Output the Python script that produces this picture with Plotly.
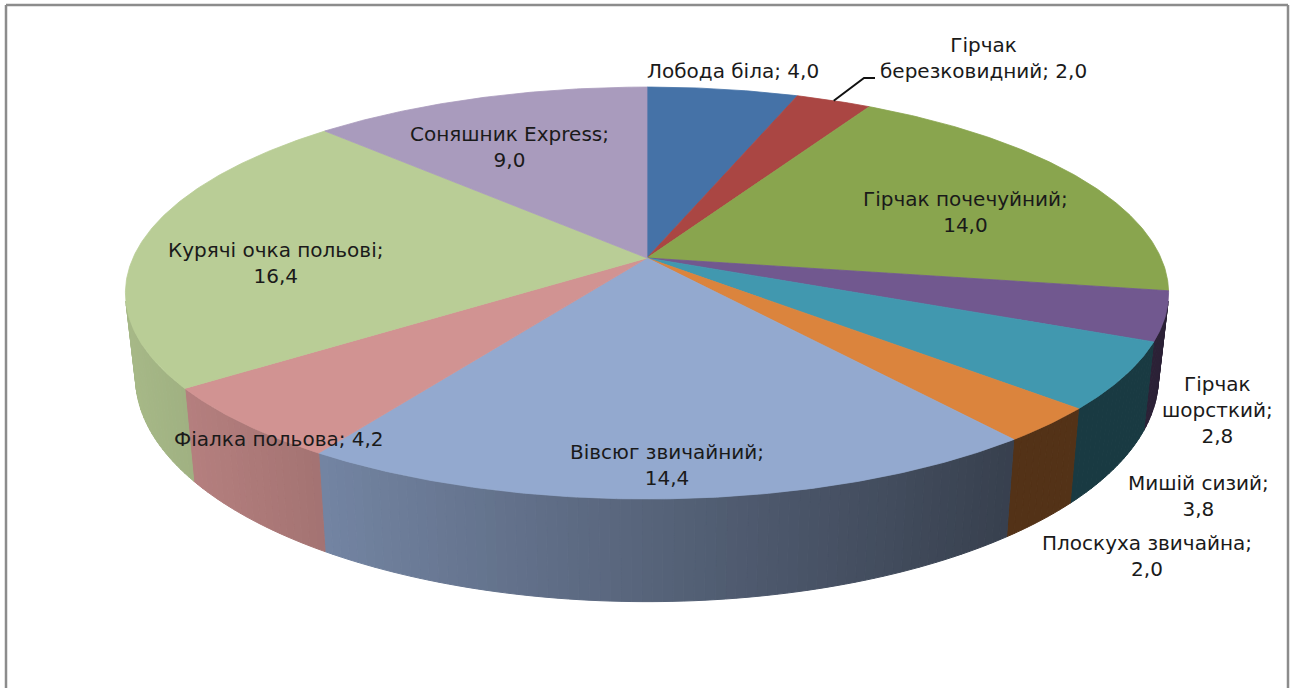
import numpy as np
import plotly.graph_objects as go

# Weed species and their shares
categories = ["Лобода біла", "Гірчак березковидний", "Гірчак почечуйний", "Гірчак шорсткий",
              "Мишій сизий", "Плоскуха звичайна", "Вівсюг звичайний", "Фіалка польова",
              "Курячі очка польові", "Соняшник Express"]
values = [4.0, 2.0, 14.0, 2.8, 3.8, 2.0, 14.4, 4.2, 16.4, 9.0]
top_colors = ["#4572A7", "#AA4643", "#89A54E", "#71588F", "#4198AF",
              "#DB843D", "#93A9CF", "#D19392", "#B9CD96", "#A99BBD"]

# Label placement: centre of the text block and how its lines are broken
label_x = [733, 983, 965, 1217, 1198, 1147, 667, 279, 275, 509]
label_y = [71, 58, 212, 410, 496, 556, 465, 439, 263, 147]
label_breaks = [
    "{a} {b}; {v}", "{a}<br>{b}; {v}", "{a} {b};<br>{v}", "{a}<br>{b};<br>{v}", "{a} {b};<br>{v}",
    "{a} {b};<br>{v}", "{a} {b};<br>{v}", "{a} {b}; {v}", "{a};<br>{v}", "{a} {b};<br>{v}",
]

# Perspective disc: pie centre, half-width, half-depth and foreshortening
CX, TOP_CY, TOP_A, TOP_B, K = 647.0, 258.0, 514.0, 200.0, 0.17
BOT_CY, BOT_A, BOT_B = 339.0, 504.0, 218.0


def rim(theta_deg, cy, a, b):
    t = np.radians(theta_deg)
    x, y = np.sin(t), np.cos(t)
    d = 1 + K * y
    return CX + a * x / d, cy - b * y / d


def hex_rgb(h):
    return np.array([int(h[i:i + 2], 16) for i in (1, 3, 5)], dtype=float)


def wall_shade(px):
    # Light falls from the left, the wall darkens toward the right
    return np.interp(px, [130, 327, 1005, 1300], [0.90, 0.78, 0.38, 0.38])


edges = 360 * np.concatenate([[0], np.cumsum(values)]) / np.sum(values)
fig = go.Figure()

# Outer wall, split into narrow facets so that the shading varies along it
for i, color in enumerate(top_colors):
    lo, hi = max(edges[i], 102), min(edges[i + 1], 258)
    if hi <= lo:
        continue
    steps = np.linspace(lo, hi, max(2, int(hi - lo) + 2))
    base = hex_rgb(color)
    for t0, t1 in zip(steps[:-1], steps[1:]):
        x0, y0 = rim(np.array([t0, t1]), TOP_CY, TOP_A, TOP_B)
        x1, y1 = rim(np.array([t1, t0]), BOT_CY, BOT_A, BOT_B)
        r, g, b = np.round(base * wall_shade((x0.mean() + x1.mean()) / 2)).astype(int)
        fill = f"rgb({r},{g},{b})"
        fig.add_trace(go.Scatter(
            x=np.r_[x0, x1, x0[0]], y=np.r_[y0, y1, y0[0]], mode="lines", fill="toself",
            fillcolor=fill, line=dict(color=fill, width=1), hoverinfo="skip", showlegend=False))

# Top face of each slice
for i, color in enumerate(top_colors):
    arc = np.linspace(edges[i], edges[i + 1], max(8, int(edges[i + 1] - edges[i]) * 2))
    xs, ys = rim(arc, TOP_CY, TOP_A, TOP_B)
    fig.add_trace(go.Scatter(
        x=np.r_[CX, xs, CX], y=np.r_[TOP_CY, ys, TOP_CY], mode="lines", fill="toself",
        fillcolor=color, line=dict(color=color, width=0.8), name=categories[i],
        hoverinfo="name", showlegend=False))

# Leader line of the small red slice
lead_x, lead_y = rim(np.array([(edges[1] + edges[2]) / 2]), TOP_CY, TOP_A, TOP_B)
fig.add_trace(go.Scatter(
    x=[lead_x[0], 864, 875], y=[lead_y[0], 78, 78], mode="lines",
    line=dict(color="#111111", width=2), hoverinfo="skip", showlegend=False))

# Data labels with a decimal comma
for name, val, fmt, lx, ly in zip(categories, values, label_breaks, label_x, label_y):
    head, _, tail = name.partition(" ")
    value_text = f"{val:.1f}".replace(".", ",")
    text = fmt.format(a=name if "{b}" not in fmt else head, b=tail, v=value_text)
    fig.add_annotation(x=lx, y=ly, text=text, showarrow=False, xanchor="center", yanchor="middle",
                       font=dict(family="DejaVu Sans", size=20, color="#1a1a1a"), align="center")

# Chart frame, open at the bottom
frame_color = "#8c8c8c"
fig.add_shape(type="line", x0=6, x1=6, y0=5, y1=688, line=dict(color=frame_color, width=2.5))
fig.add_shape(type="line", x0=6, x1=1288, y0=5, y1=5, line=dict(color=frame_color, width=2.5))
fig.add_shape(type="line", x0=1288, x1=1288, y0=5, y1=688, line=dict(color=frame_color, width=2.5))

fig.update_layout(
    width=1295, height=688, margin=dict(l=0, r=0, t=0, b=0),
    paper_bgcolor="white", plot_bgcolor="white",
    xaxis=dict(range=[0, 1295], visible=False, fixedrange=True),
    yaxis=dict(range=[688, 0], visible=False, fixedrange=True),
)
fig.write_html("out.html", config={"displayModeBar": False})
